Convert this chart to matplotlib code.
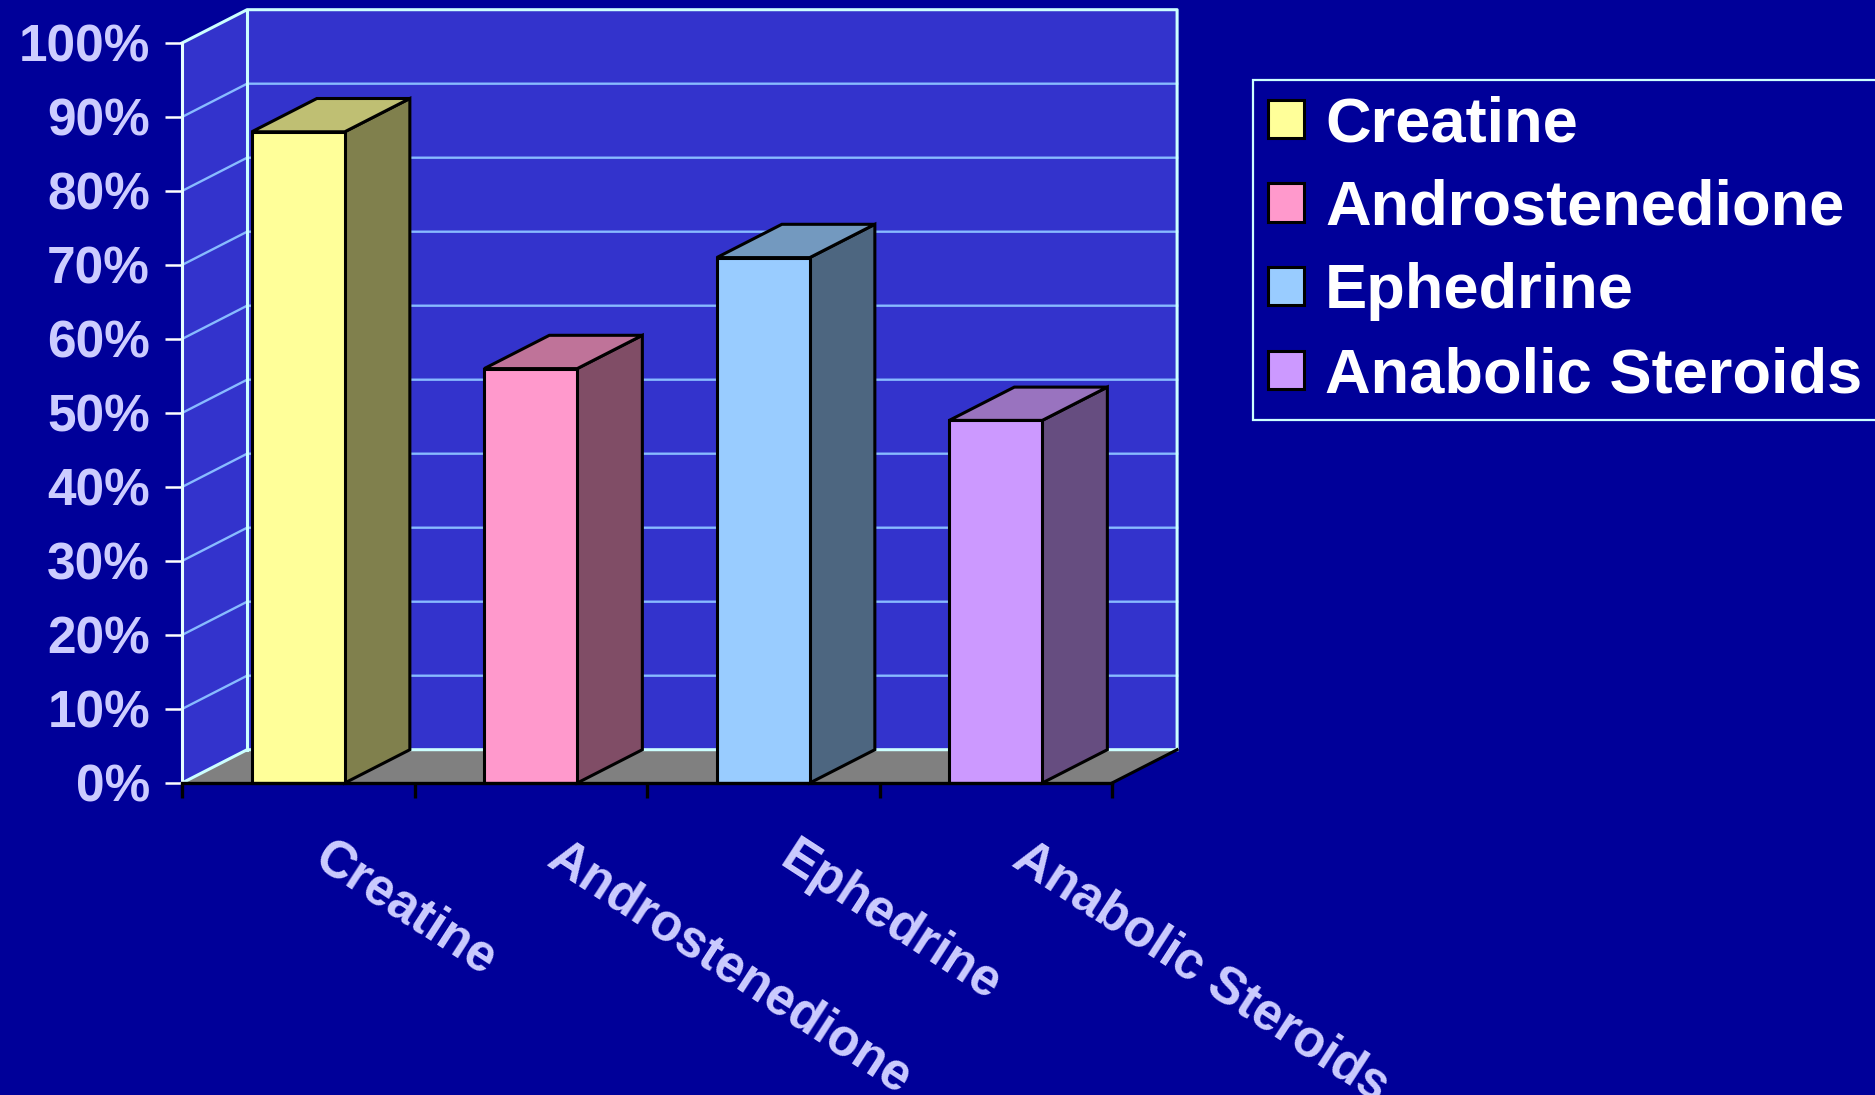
import matplotlib.pyplot as plt
from matplotlib.patches import Polygon, Rectangle, Patch
from matplotlib.transforms import offset_copy

# Share of users reporting each supplement
categories = ['Creatine', 'Androstenedione', 'Ephedrine', 'Anabolic Steroids']
percent_users = [88, 56, 71, 49]
y_ticks = list(range(0, 101, 10))

# face shades for the 3-D boxes: front / top / side
front_colors = ['#FFFF99', '#FF99CC', '#99CCFF', '#CC99FF']
top_colors = ['#BFBF73', '#BF7399', '#7399BF', '#9973BF']
side_colors = ['#80804D', '#804D66', '#4D6680', '#664D80']

BG = '#000099'
WALL = '#3333CC'
EDGE = '#CCFFFF'
GRID = '#88BBFF'
LABEL = '#CCCCFF'

plt.rcParams['font.family'] = ['Liberation Sans', 'DejaVu Sans']
plt.rcParams['font.weight'] = 'bold'

W, H = 1875, 1095
fig = plt.figure(figsize=(W / 100, H / 100), dpi=100, facecolor=BG)
ax = fig.add_axes([182 / W, (H - 783) / H, 930 / W, 740 / H])
ax.set_xlim(0, len(categories))
ax.set_ylim(0, 100)
ax.patch.set_visible(False)

n = len(categories)
dx, dy = 0.28, 4.5          # depth of the 3-D box in data units
bar_w = 0.4

# side wall, back wall and floor
ax.add_patch(Polygon([(0, 0), (dx, dy), (dx, 100 + dy), (0, 100)],
                     fc=WALL, ec='none', zorder=0.5, clip_on=False))
ax.add_patch(Rectangle((dx, dy), n, 100, fc=WALL, ec='none',
                       zorder=0.5, clip_on=False))
ax.add_patch(Polygon([(0, 0), (n, 0), (n + dx, dy), (dx, dy)],
                     fc='#808080', ec='none', zorder=0.6, clip_on=False))

# gridlines run across the side wall and the back wall
for v in y_ticks[1:-1]:
    ax.plot([0, dx, n + dx], [v, v + dy, v + dy], color=GRID, lw=1.7,
            zorder=0.7, clip_on=False)

# wall outlines
ax.plot([0, dx, n + dx, n + dx], [100, 100 + dy, 100 + dy, dy],
        color=EDGE, lw=2.2, zorder=0.8, clip_on=False)
ax.plot([dx, dx], [dy, 100 + dy], color=EDGE, lw=2.2, zorder=0.8, clip_on=False)
ax.plot([0, dx, n + dx], [0, dy, dy], color=EDGE, lw=2.2, zorder=0.8, clip_on=False)
ax.plot([n, n + dx], [0, dy], color='black', lw=2.2, zorder=0.8, clip_on=False)

# 3-D bars
for i, v in enumerate(percent_users):
    x0 = i + 0.5 - bar_w / 2
    x1 = x0 + bar_w
    ax.add_patch(Polygon([(x1, 0), (x1 + dx, dy), (x1 + dx, v + dy), (x1, v)],
                         fc=side_colors[i], ec='black', lw=2.2, zorder=3,
                         joinstyle='miter', clip_on=False))
    ax.add_patch(Polygon([(x0, v), (x1, v), (x1 + dx, v + dy), (x0 + dx, v + dy)],
                         fc=top_colors[i], ec='black', lw=2.2, zorder=3,
                         joinstyle='miter', clip_on=False))
    ax.add_patch(Rectangle((x0, 0), bar_w, v, fc=front_colors[i], ec='black',
                           lw=2.2, zorder=3.1, joinstyle='miter', clip_on=False))

# axes
for s in ['top', 'right']:
    ax.spines[s].set_visible(False)
ax.spines['left'].set_color('#E6FFFF')
ax.spines['left'].set_linewidth(2.2)
ax.spines['bottom'].set_color('black')
ax.spines['bottom'].set_linewidth(2.4)
ax.spines['bottom'].set_zorder(4)

ax.set_yticks(y_ticks, [f'{t}%' for t in y_ticks])
ax.tick_params(axis='y', length=12, width=1.8, color='white', pad=11,
               labelsize=37, labelcolor=LABEL)
ax.set_xticks(range(n + 1))
ax.tick_params(axis='x', length=11, width=2.4, color='black', labelbottom=False)

# slanted category names under the floor
label_tr = offset_copy(ax.transData, fig=fig, x=35, y=-50, units='dots')
for i, name in enumerate(categories):
    ax.text(i + 0.5, 0, name, transform=label_tr, rotation=-33,
            rotation_mode='anchor', ha='left', va='top',
            fontsize=37, color=LABEL, fontweight='bold')

handles = [Patch(fc=c, ec='black', lw=2.2) for c in front_colors]
leg = fig.legend(handles, categories, loc='upper left',
                 bbox_to_anchor=(1253 / W, 1 - 80 / H), borderaxespad=0,
                 fontsize=45.5, frameon=True, fancybox=False, facecolor=BG,
                 edgecolor=EDGE, framealpha=1, labelcolor='white',
                 handlelength=0.56, handleheight=0.56, handletextpad=0.34,
                 labelspacing=0.39, borderpad=0.24)
leg.get_frame().set_linewidth(1.6)
for t in leg.get_texts():
    t.set_fontweight('bold')

fig.savefig('out.png', dpi=100, facecolor=BG)
